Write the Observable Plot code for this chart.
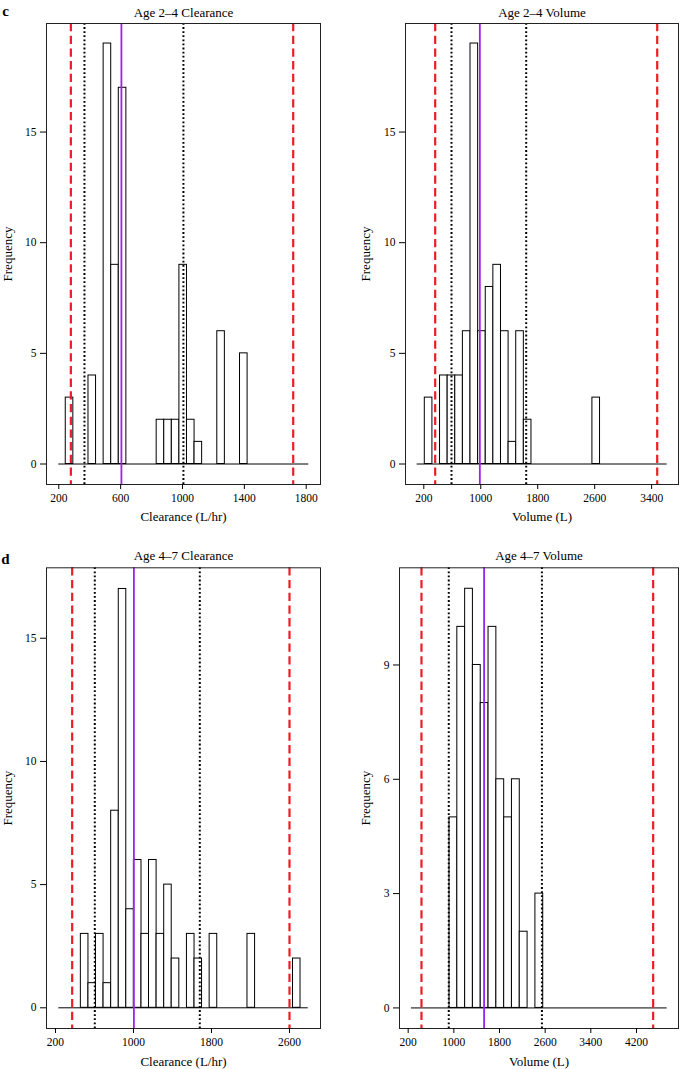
<!DOCTYPE html>
<html><head><meta charset="utf-8">
<script src="https://cdn.jsdelivr.net/npm/d3@7"></script>
<script src="https://cdn.jsdelivr.net/npm/@observablehq/plot@0.6"></script>
<style>
body{margin:0;background:#fff;}
#fig{position:relative;width:680px;height:1069px;background:#fff;overflow:hidden;}
#fig svg{position:absolute;}
</style></head><body><div id="fig"></div>
<script>
// ---------------- data ----------------
// Age 2–4 clearance (L/hr)
const clearance24Breaks = [245,294,343,392,441,490,539,588,637,686,735,784,833,882,931,980,1029,1078,1127,1176,1225,1274,1323,1372,1421];
const clearance24Counts = [3,0,0,4,0,19,9,17,0,0,0,0,2,2,2,9,2,1,0,0,6,0,0,5];
const clearance24Limits = [278, 1716];
const clearance24Interval = [366, 1006];
const clearance24Median = [605];
const clearance24Span = [200, 1817];
const clearance24Ticks = [200, 600, 1000, 1400, 1800];

// Age 2–4 volume (L)
const volume24Breaks = [214,321,428,535,642,749,856,963,1070,1177,1284,1391,1498,1605,1712,1819,1926,2033,2140,2247,2354,2461,2568,2675];
const volume24Counts = [3,0,4,4,4,6,19,6,8,9,6,1,6,2,0,0,0,0,0,0,0,0,3];
const volume24Limits = [360, 3478];
const volume24Interval = [589, 1638];
const volume24Median = [987];
const volume24Span = [107, 3618];
const volume24Ticks = [200, 1000, 1800, 2600, 3400];

// Age 4–7 clearance (L/hr)
const clearance47Breaks = [460,538,615,693,771,849,926,1004,1082,1159,1237,1315,1392,1470,1548,1626,1703,1781,1859,1936,2014,2092,2169,2247,2325,2403,2480,2558,2636,2713];
const clearance47Counts = [3,1,3,1,8,17,4,6,3,6,3,5,2,0,3,2,0,3,0,0,0,0,3,0,0,0,0,0,2];
const clearance47Limits = [371, 2600];
const clearance47Interval = [603, 1680];
const clearance47Median = [1004];
const clearance47Span = [234, 2792];
const clearance47Ticks = [200, 1000, 1800, 2600];

// Age 4–7 volume (L)
const volume47Breaks = [924,1061,1198,1334,1471,1608,1745,1882,2018,2155,2292,2429,2566];
const volume47Counts = [5,10,11,9,8,10,6,5,6,2,0,3];
const volume47Limits = [433, 4492];
const volume47Interval = [911, 2543];
const volume47Median = [1530];
const volume47Span = [257, 4737];
const volume47Ticks = [200, 1000, 1800, 2600, 3400, 4200];

const freqTicks15 = [0, 5, 10, 15];
const freqTicks9 = [0, 3, 6, 9];
const panelTitles = ["Age 2–4 Clearance", "Age 2–4 Volume", "Age 4–7 Clearance", "Age 4–7 Volume"];
const xTitles = ["Clearance (L/hr)", "Volume (L)", "Clearance (L/hr)", "Volume (L)"];
const yTitle = "Frequency";
const panelTags = ["c", "d"];

// ---------------- layout ----------------
const panels = [
  {breaks: clearance24Breaks, counts: clearance24Counts, limits: clearance24Limits, interval: clearance24Interval,
   median: clearance24Median, span: clearance24Span, xTicks: clearance24Ticks, yTicks: freqTicks15,
   title: panelTitles[0], xTitle: xTitles[0], tag: panelTags[0],
   xDomain: [120.5, 1892.5], yDomain: [-0.926, 19.905],
   left: 0, top: 0, width: 340, height: 530, m: [23, 20, 46, 46],
   titleDy: -10.7, xTitleDy: 32, yTitleDx: -38.5, tagDx: -41, tagDy: -12.8},
  {breaks: volume24Breaks, counts: volume24Counts, limits: volume24Limits, interval: volume24Interval,
   median: volume24Median, span: volume24Span, xTicks: volume24Ticks, yTicks: freqTicks15,
   title: panelTitles[1], xTitle: xTitles[1], tag: null,
   xDomain: [-57, 3777], yDomain: [-0.926, 19.905],
   left: 340, top: 0, width: 340, height: 530, m: [23, 2, 46, 65],
   titleDy: -10.7, xTitleDy: 32, yTitleDx: -39.7},
  {breaks: clearance47Breaks, counts: clearance47Counts, limits: clearance47Limits, interval: clearance47Interval,
   median: clearance47Median, span: clearance47Span, xTicks: clearance47Ticks, yTicks: freqTicks15,
   title: panelTitles[2], xTitle: xTitles[2], tag: panelTags[1],
   xDomain: [107.7, 2918], yDomain: [-0.84, 17.86],
   left: 0, top: 530, width: 340, height: 539, m: [37.3, 20, 41, 46],
   titleDy: -12, xTitleDy: 33, yTitleDx: -38.5, tagDx: -41, tagDy: -8.7},
  {breaks: volume47Breaks, counts: volume47Counts, limits: volume47Limits, interval: volume47Interval,
   median: volume47Median, span: volume47Span, xTicks: volume47Ticks, yTicks: freqTicks9,
   title: panelTitles[3], xTitle: xTitles[3], tag: null,
   xDomain: [48, 4936], yDomain: [-0.54, 11.55],
   left: 340, top: 530, width: 340, height: 539, m: [37.3, 2, 41, 59],
   titleDy: -12, xTitleDy: 33, yTitleDx: -33.3}
];

const fig = document.getElementById("fig");
const serif = "'Liberation Serif', 'DejaVu Serif', serif";
const plain = d => String(d);

for (const p of panels) {
  const bars = p.counts.map((c, i) => ({x1: p.breaks[i], x2: p.breaks[i + 1], y1: 0, y2: c})).filter(d => d.y2 > 0);
  const base = [{y: 0, x1: p.span[0], x2: p.span[1]}];
  const marks = [
    Plot.rect(bars, {x1: "x1", x2: "x2", y1: "y1", y2: "y2", fill: "white", stroke: "black", strokeWidth: 1}),
    Plot.ruleY(base, {y: "y", x1: "x1", x2: "x2", stroke: "black", strokeWidth: 1}),
    Plot.ruleX(p.limits, {stroke: "#ee1c25", strokeWidth: 2.2, strokeDasharray: "8.3,4.4"}),
    Plot.ruleX(p.interval, {stroke: "black", strokeWidth: 2, strokeDasharray: "1.8,2.3"}),
    Plot.ruleX(p.median, {stroke: "#a020f0", strokeWidth: 1.8}),
    Plot.frame({stroke: "#222", strokeWidth: 1}),
    Plot.axisX(p.xTicks, {tickSize: 5, tickPadding: 4.6, tickFormat: plain, label: null}),
    Plot.axisY(p.yTicks, {tickSize: 6, tickPadding: 4, tickFormat: plain, label: null}),
    Plot.text([p.title], {text: d => d, frameAnchor: "top", textAnchor: "middle", lineAnchor: "middle", dy: p.titleDy, fontSize: 13}),
    Plot.text([p.xTitle], {text: d => d, frameAnchor: "bottom", textAnchor: "middle", lineAnchor: "middle", dy: p.xTitleDy, fontSize: 13}),
    Plot.text([yTitle], {text: d => d, frameAnchor: "left", textAnchor: "middle", lineAnchor: "middle", rotate: -90, dx: p.yTitleDx, fontSize: 13})
  ];
  if (p.tag) marks.push(Plot.text([p.tag], {text: d => d, frameAnchor: "top-left", textAnchor: "middle", lineAnchor: "middle", dx: p.tagDx, dy: p.tagDy, fontSize: 15, fontWeight: "bold"}));
  const svg = Plot.plot({
    width: p.width, height: p.height,
    marginTop: p.m[0], marginRight: p.m[1], marginBottom: p.m[2], marginLeft: p.m[3],
    x: {domain: p.xDomain},
    y: {domain: p.yDomain},
    style: {fontFamily: serif, fontSize: "11.5px", background: "white", color: "black"},
    marks
  });
  svg.style.left = p.left + "px";
  svg.style.top = p.top + "px";
  fig.append(svg);
}
</script></body></html>
